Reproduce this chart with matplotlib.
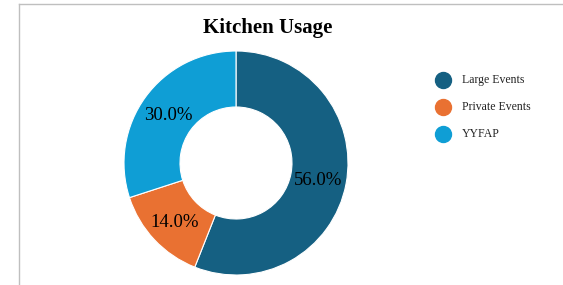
import matplotlib.pyplot as plt
from matplotlib.lines import Line2D

categories = ["Large Events", "Private Events", "YYFAP"]
shares = [56.0, 14.0, 30.0]
colors = ["#156082", "#E97132", "#0F9ED5"]

plt.rcParams['font.family'] = ['Liberation Serif', 'DejaVu Serif']

fig = plt.figure(figsize=(5.63, 2.85), dpi=100)

# pie area, 224 px square centred near (236, 163)
ax = fig.add_axes([124 / 563, (285 - 163 - 112) / 285, 224 / 563, 224 / 285])
wedges, texts, autotexts = ax.pie(
    shares, colors=colors, startangle=90, counterclock=False,
    autopct='%1.1f%%', pctdistance=0.75, radius=1,
    wedgeprops=dict(width=0.5, edgecolor='white', linewidth=0.8),
    textprops=dict(fontsize=13.5, color='black'))
for t in autotexts:
    t.set_va('center_baseline')
ax.set_xlim(-1, 1)
ax.set_ylim(-1, 1)

fig.text(268 / 563, 1 - 28 / 285, "Kitchen Usage", ha='center', va='center',
         fontsize=15, fontweight='bold')

# legend drawn by hand
for i, (name, col) in enumerate(zip(categories, colors)):
    y = 1 - (80 + 27 * i) / 285
    fig.add_artist(Line2D([443 / 563], [y], marker='o', markersize=11.5,
                          color=col, linestyle='none', transform=fig.transFigure))
    fig.text(462 / 563, y, name, ha='left', va='center', fontsize=8.5, color='#222222')

# border lines at left and top
fig.add_artist(Line2D([18.5 / 563, 18.5 / 563], [0, 1 - 3.5 / 285], color='#bfbfbf',
                      linewidth=1, transform=fig.transFigure))
fig.add_artist(Line2D([18.5 / 563, 1], [1 - 3.5 / 285, 1 - 3.5 / 285], color='#bfbfbf',
                      linewidth=1, transform=fig.transFigure))

fig.savefig("out.png", dpi=100)
